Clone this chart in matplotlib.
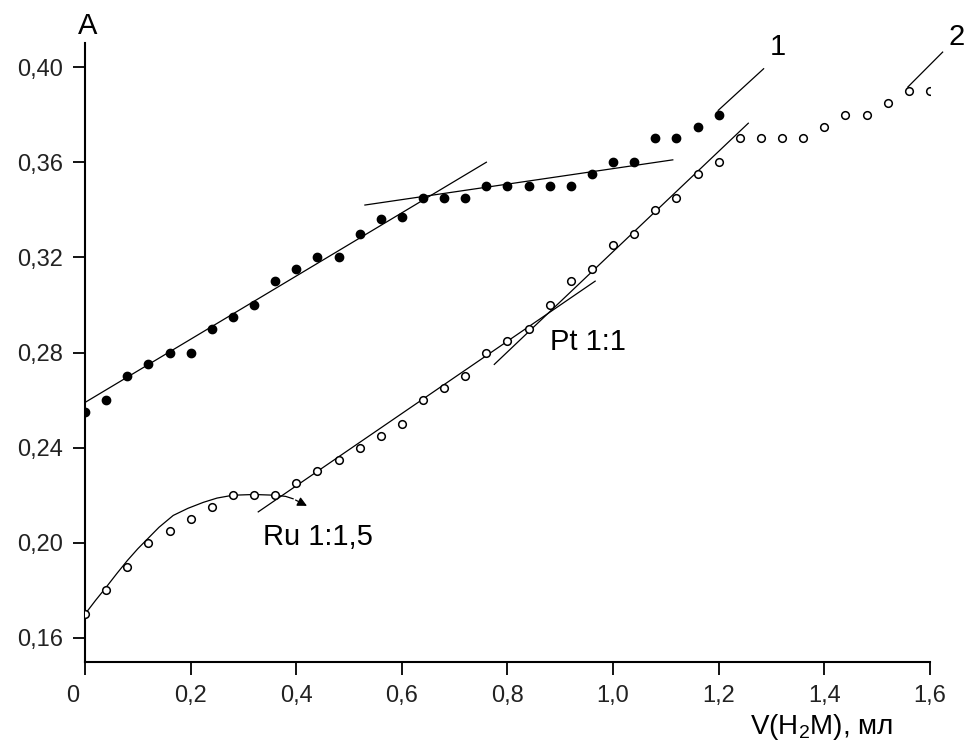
import matplotlib
matplotlib.use("Agg")
import matplotlib.pyplot as plt
import matplotlib.transforms as mtransforms

plt.rcParams['font.family'] = ['Liberation Sans', 'DejaVu Sans']
plt.rcParams['mathtext.fontset'] = 'custom'
plt.rcParams['mathtext.rm'] = 'Liberation Sans'

# series 1 (filled dots) and series 2 (open circles)
x1 = [0.00, 0.04, 0.08, 0.12, 0.16, 0.20, 0.24, 0.28, 0.32, 0.36, 0.40,
      0.44, 0.48, 0.52, 0.56, 0.60, 0.64, 0.68, 0.72, 0.76, 0.80, 0.84,
      0.88, 0.92, 0.96, 1.00, 1.04, 1.08, 1.12, 1.16, 1.20]
y1 = [0.255, 0.260, 0.270, 0.275, 0.280, 0.280, 0.290, 0.295, 0.300, 0.310, 0.315,
      0.320, 0.320, 0.330, 0.336, 0.337, 0.345, 0.345, 0.345, 0.350, 0.350, 0.350,
      0.350, 0.350, 0.355, 0.360, 0.360, 0.370, 0.370, 0.375, 0.380]

x2 = [0.00, 0.04, 0.08, 0.12, 0.16, 0.20, 0.24, 0.28, 0.32, 0.36, 0.40,
      0.44, 0.48, 0.52, 0.56, 0.60, 0.64, 0.68, 0.72, 0.76, 0.80, 0.84,
      0.88, 0.92, 0.96, 1.00, 1.04, 1.08, 1.12, 1.16, 1.20, 1.24, 1.28,
      1.32, 1.36, 1.40, 1.44, 1.48, 1.52, 1.56, 1.60]
y2 = [0.170, 0.180, 0.190, 0.200, 0.205, 0.210, 0.215, 0.220, 0.220, 0.220, 0.225,
      0.230, 0.235, 0.240, 0.245, 0.250, 0.260, 0.265, 0.270, 0.280, 0.285, 0.290,
      0.300, 0.310, 0.315, 0.325, 0.330, 0.340, 0.345, 0.355, 0.360, 0.370, 0.370,
      0.370, 0.370, 0.375, 0.380, 0.380, 0.385, 0.390, 0.390]

# tangent lines
fit1a_x, fit1a_y = [0.0, 0.76], [0.259, 0.360]
fit1b_x, fit1b_y = [0.53, 1.113], [0.342, 0.361]
fit2a_x, fit2a_y = [0.328, 0.966], [0.213, 0.310]
fit2b_x, fit2b_y = [0.775, 1.256], [0.275, 0.3764]

# Ru curve (traced) with arrow at its end
ru_x = [0.0, 0.02, 0.04, 0.06, 0.08, 0.10, 0.12, 0.14, 0.167, 0.195,
        0.224, 0.25, 0.28, 0.32, 0.36, 0.38, 0.394]
ru_y = [0.170, 0.1758, 0.1813, 0.187, 0.1925, 0.1975, 0.202, 0.2065, 0.2115,
        0.2145, 0.217, 0.2188, 0.2200, 0.2203, 0.2200, 0.2195, 0.2185]
ru_tip = (0.425, 0.2150)

# pointer lines for the curve numbers
ptr1_x, ptr1_y = [1.285, 1.199], [0.3993, 0.3818]
ptr2_x, ptr2_y = [1.624, 1.558], [0.4063, 0.3916]

yticks = [0.16, 0.20, 0.24, 0.28, 0.32, 0.36, 0.40]
ytick_labels = ['0,16', '0,20', '0,24', '0,28', '0,32', '0,36', '0,40']
xticks = [0.0, 0.2, 0.4, 0.6, 0.8, 1.0, 1.2, 1.4, 1.6]
xtick_labels = ['0', '0,2', '0,4', '0,6', '0,8', '1,0', '1,2', '1,4', '1,6']

fig = plt.figure(figsize=(9.65, 7.44), dpi=100)
ax = fig.add_axes([0.0881, 0.1106, 0.8756, 0.8312])

ax.spines["top"].set_visible(False)
ax.spines["right"].set_visible(False)
ax.spines["left"].set_linewidth(1.5)
ax.spines["bottom"].set_linewidth(1.5)

ax.set_xlim(0, 1.6)
ax.set_ylim(0.15, 0.41)
ax.set_xticks(xticks)
ax.set_xticklabels(xtick_labels)
ax.set_yticks(yticks)
ax.set_yticklabels(ytick_labels)
ax.tick_params(axis='both', direction='out', length=9, width=1.3,
               labelsize=17, labelcolor='#222222')
ax.tick_params(axis='x', pad=8)
ax.tick_params(axis='y', pad=7)

# the "0" label sits a bit left of its tick in the original
lbl0 = ax.get_xticklabels()[0]
lbl0.set_transform(lbl0.get_transform() +
                   mtransforms.ScaledTranslation(-0.12, 0, fig.dpi_scale_trans))

lw = 0.9
ax.plot(fit1a_x, fit1a_y, color='black', lw=lw)
ax.plot(fit1b_x, fit1b_y, color='black', lw=lw)
ax.plot(fit2a_x, fit2a_y, color='black', lw=lw)
ax.plot(fit2b_x, fit2b_y, color='black', lw=lw)
ax.plot(ru_x, ru_y, color='black', lw=lw)
ax.annotate('', xy=ru_tip, xytext=(ru_x[-1], ru_y[-1]),
            arrowprops=dict(arrowstyle='-|>', color='black', lw=lw,
                            mutation_scale=14))
ax.plot(ptr1_x, ptr1_y, color='black', lw=lw, clip_on=False)
ax.plot(ptr2_x, ptr2_y, color='black', lw=lw, clip_on=False)

ax.plot(x1, y1, 'o', color='black', ms=6, zorder=3)
ax.plot(x2, y2, 'o', mfc='white', mec='black', ms=5.5, mew=1.1, zorder=3)

ax.text(0.337, 0.2026, 'Ru 1:1,5', fontsize=21, va='center', ha='left')
ax.text(0.881, 0.2844, 'Pt 1:1', fontsize=21, va='center', ha='left')
ax.text(1.3116, 0.4084, '1', fontsize=21, va='center', ha='center')
ax.text(1.651, 0.4126, '2', fontsize=21, va='center', ha='center', clip_on=False)
ax.text(0.0047, 0.4171, 'A', fontsize=21, va='center', ha='center', clip_on=False)
ax.text(1.2595, 0.1227, 'V(H$_2$M), мл', fontsize=20, va='center', ha='left',
        clip_on=False)

plt.savefig('out.png', dpi=100)
